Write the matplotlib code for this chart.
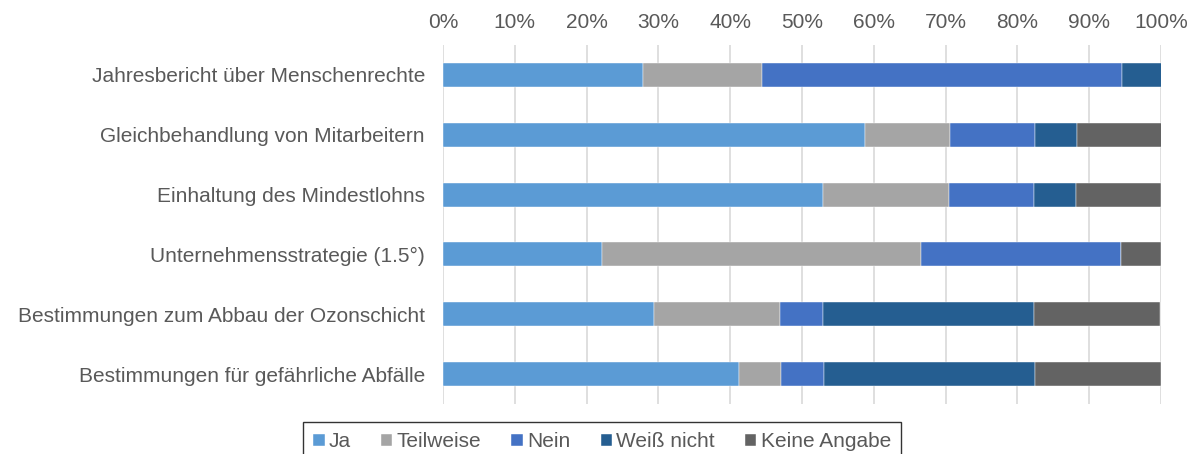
import matplotlib
matplotlib.use("Agg")
import matplotlib.pyplot as plt
import numpy as np

plt.rcParams['font.family'] = ['Liberation Sans', 'DejaVu Sans']

categories = [
    "Jahresbericht über Menschenrechte",
    "Gleichbehandlung von Mitarbeitern",
    "Einhaltung des Mindestlohns",
    "Unternehmensstrategie (1.5°)",
    "Bestimmungen zum Abbau der Ozonschicht",
    "Bestimmungen für gefährliche Abfälle",
]
series_names = ["Ja", "Teilweise", "Nein", "Weiß nicht", "Keine Angabe"]
ja = [27.8, 58.8, 52.9, 22.2, 29.4, 41.2]
teilweise = [16.7, 11.8, 17.6, 44.4, 17.6, 5.9]
nein = [50.0, 11.8, 11.8, 27.8, 5.9, 5.9]
weiss_nicht = [5.6, 5.9, 5.9, 0.0, 29.4, 29.4]
keine_angabe = [0.0, 11.8, 11.8, 5.6, 17.6, 17.6]
colors = ["#5B9BD5", "#A5A5A5", "#4472C4", "#255E91", "#636363"]

values = [ja, teilweise, nein, weiss_nicht, keine_angabe]

fig = plt.figure(figsize=(11.92, 4.54), dpi=100)
ax = fig.add_axes([0.3716, 0.1101, 0.6024, 0.7908])

y = np.arange(len(categories))
left = np.zeros(len(categories))
for name, vals, col in zip(series_names, values, colors):
    vals = np.array(vals)
    ax.barh(y, vals, left=left, height=0.4, color=col, label=name,
            edgecolor='white', linewidth=0.3, zorder=3)
    left += vals

ax.set_xlim(0, 100)
ax.set_ylim(len(categories) - 0.5, -0.5)
ax.set_yticks(y)
ax.set_yticklabels(categories)
ax.set_xticks(np.arange(0, 101, 10))
ax.set_xticklabels([f"{v}%" for v in range(0, 101, 10)])
ax.xaxis.tick_top()
ax.tick_params(axis='both', length=0, labelsize=15, colors='#595959')
ax.tick_params(axis='x', pad=9)
ax.tick_params(axis='y', pad=13)
for s in ax.spines.values():
    s.set_visible(False)
ax.grid(axis='x', color='#D9D9D9', linewidth=1.2, zorder=0)
ax.set_axisbelow(True)

leg = fig.legend(loc='upper center', bbox_to_anchor=(0.505, 0.0705), ncol=5,
                 frameon=True, fancybox=False, edgecolor='black', fontsize=15,
                 handlelength=0.55, handleheight=0.55, handletextpad=0.2,
                 columnspacing=1.45, borderpad=0.5, borderaxespad=0,
                 labelcolor='#595959')
leg.get_frame().set_linewidth(1.0)

fig.savefig("out.png", dpi=100)
